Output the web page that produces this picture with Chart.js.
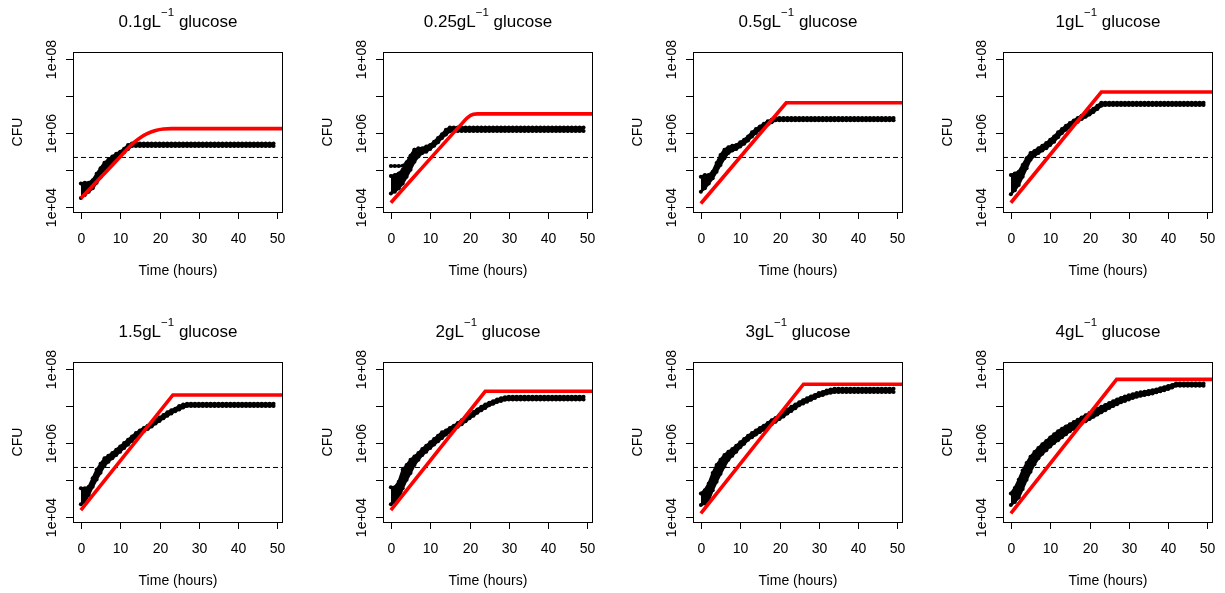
<!DOCTYPE html>
<html>
<head>
<meta charset="utf-8">
<script src="https://cdn.jsdelivr.net/npm/chart.js@4.4.0/dist/chart.umd.min.js"></script>
<style>
  html, body { margin: 0; padding: 0; background: #fff; }
  #grid { position: relative; width: 1225px; height: 593px; overflow: hidden; }
  #grid canvas { position: absolute; }
</style>
</head>
<body>
<div id="grid"></div>
<script>
// Glucose concentration of each panel (g/L)
const concentrations = ['0.1', '0.25', '0.5', '1', '1.5', '2', '3', '4'];

// Axis ticks
const xTicks = [0, 10, 20, 30, 40, 50];
const yTicks = [1e4, 1e5, 1e6, 1e7, 1e8];
const yTickLabels = ['1e+04', '', '1e+06', '', '1e+08'];

// Dashed reference level (CFU)
const detectionLimit = 2.15e5;
// Last sampled hour
const lastHour = 49;

// Growth phase, log10 CFU, one value per hour from t = 0 (upper / lower replicate);
// plateau = stationary level [upper, lower]; model = fitted curve (hours, log10 CFU)
const upper01 = [4.63, 4.65, 4.65, 4.72, 4.89, 5.04, 5.19, 5.27, 5.36, 5.43, 5.49, 5.57, 5.67];
const lower01 = [4.24, 4.32, 4.41, 4.50, 4.65, 4.80, 4.95, 5.09, 5.19, 5.29, 5.38, 5.47, 5.56];
const plateau01 = [5.71, 5.64];
const modelHours01 = [0, 5, 10, 13, 15, 17, 19, 21, 23, 52];
const modelLog01 = [4.23, 4.79, 5.35, 5.69, 5.86, 5.98, 6.06, 6.10, 6.11, 6.11];

const upper025 = [4.83, 4.86, 4.90, 5.00, 5.18, 5.36, 5.54, 5.58, 5.58, 5.63, 5.67, 5.76, 5.86, 5.96, 6.08, 6.14];
const lower025 = [4.36, 4.41, 4.50, 4.63, 4.81, 5.00, 5.22, 5.36, 5.45, 5.49, 5.56, 5.65, 5.74, 5.86, 5.95, 6.04];
const early025 = [5.10, 5.10, 5.10, 5.11, 5.20, 5.38, 5.54];
const plateau025 = [6.14, 6.05];
const modelHours025 = [0, 18, 19.5, 21, 22, 52];
const modelLog025 = [4.11, 6.24, 6.41, 6.50, 6.51, 6.51];

const upper05 = [4.81, 4.86, 4.86, 4.95, 5.18, 5.40, 5.54, 5.61, 5.65, 5.67, 5.74, 5.81, 5.90, 6.01, 6.10, 6.17, 6.24, 6.31, 6.35];
const lower05 = [4.41, 4.50, 4.63, 4.77, 4.95, 5.13, 5.31, 5.45, 5.52, 5.56, 5.63, 5.70, 5.79, 5.90, 5.99, 6.08, 6.15, 6.22, 6.28];
const plateau05 = [6.40, 6.34];
const modelHours05 = [0, 21.7, 52];
const modelLog05 = [4.09, 6.81, 6.81];

const upper1 = [4.86, 4.90, 4.95, 5.13, 5.31, 5.45, 5.51, 5.58, 5.65, 5.72, 5.81, 5.90, 6.01, 6.10, 6.19, 6.26, 6.33, 6.40, 6.46, 6.52, 6.58, 6.65, 6.73, 6.81];
const lower1 = [4.34, 4.45, 4.59, 4.81, 5.04, 5.27, 5.38, 5.45, 5.52, 5.58, 5.67, 5.76, 5.88, 5.99, 6.08, 6.15, 6.23, 6.30, 6.37, 6.43, 6.49, 6.56, 6.64, 6.73];
const plateau1 = [6.81, 6.75];
const modelHours1 = [0, 23, 52];
const modelLog1 = [4.11, 7.10, 7.10];

const upper15 = [4.77, 4.77, 4.81, 5.04, 5.27, 5.43, 5.58, 5.65, 5.72, 5.81, 5.90, 5.99, 6.08, 6.17, 6.26, 6.33, 6.40, 6.46, 6.53, 6.61, 6.68, 6.75, 6.82, 6.88, 6.92, 6.99, 7.03];
const lower15 = [4.34, 4.41, 4.59, 4.81, 5.01, 5.19, 5.38, 5.49, 5.58, 5.67, 5.76, 5.86, 5.95, 6.05, 6.15, 6.24, 6.31, 6.37, 6.44, 6.52, 6.59, 6.66, 6.73, 6.79, 6.85, 6.90, 6.95];
const plateau15 = [7.05, 6.99];
const modelHours15 = [0, 23.4, 52];
const modelLog15 = [4.18, 7.29, 7.29];

const upper2 = [4.80, 4.80, 4.95, 5.27, 5.40, 5.54, 5.63, 5.72, 5.83, 5.92, 6.01, 6.10, 6.19, 6.28, 6.33, 6.40, 6.46, 6.53, 6.61, 6.69, 6.76, 6.83, 6.90, 6.97, 7.03, 7.08, 7.12, 7.17, 7.20, 7.23];
const lower2 = [4.34, 4.41, 4.50, 4.77, 5.00, 5.18, 5.40, 5.54, 5.67, 5.76, 5.86, 5.95, 6.04, 6.13, 6.22, 6.29, 6.35, 6.43, 6.50, 6.58, 6.66, 6.73, 6.81, 6.88, 6.94, 7.01, 7.05, 7.10, 7.13, 7.16];
const plateau2 = [7.24, 7.17];
const modelHours2 = [0, 24, 52];
const modelLog2 = [4.18, 7.39, 7.39];

const upper3 = [4.63, 4.72, 4.90, 5.18, 5.40, 5.54, 5.67, 5.76, 5.83, 5.92, 6.01, 6.10, 6.19, 6.26, 6.33, 6.40, 6.46, 6.53, 6.61, 6.67, 6.75, 6.82, 6.90, 6.97, 7.03, 7.09, 7.15, 7.20, 7.25, 7.29, 7.34, 7.37, 7.41, 7.44, 7.46];
const lower3 = [4.32, 4.36, 4.45, 4.72, 4.95, 5.16, 5.36, 5.54, 5.65, 5.76, 5.88, 5.97, 6.08, 6.15, 6.22, 6.29, 6.35, 6.43, 6.50, 6.57, 6.64, 6.71, 6.79, 6.86, 6.93, 7.01, 7.06, 7.11, 7.16, 7.21, 7.26, 7.29, 7.33, 7.35, 7.37];
const plateau3 = [7.46, 7.37];
const modelHours3 = [0, 26.1, 52];
const modelLog3 = [4.09, 7.58, 7.58];

const upper4 = [4.63, 4.78, 5.00, 5.25, 5.45, 5.62, 5.75, 5.86, 5.96, 6.05, 6.14, 6.23, 6.31, 6.38, 6.44, 6.50, 6.56, 6.62, 6.68, 6.74, 6.80, 6.86, 6.92, 6.97, 7.02, 7.07, 7.12, 7.17, 7.21, 7.25, 7.28, 7.31, 7.34, 7.36, 7.38, 7.40, 7.42, 7.44, 7.47, 7.50, 7.53, 7.56];
const lower4 = [4.32, 4.40, 4.52, 4.75, 5.00, 5.22, 5.42, 5.58, 5.70, 5.80, 5.90, 5.99, 6.07, 6.15, 6.23, 6.31, 6.38, 6.45, 6.52, 6.58, 6.64, 6.70, 6.76, 6.82, 6.88, 6.94, 6.99, 7.04, 7.09, 7.13, 7.17, 7.21, 7.24, 7.27, 7.29, 7.31, 7.33, 7.36, 7.39, 7.42, 7.45, 7.49];
const plateau4 = [7.60, 7.54];
const modelHours4 = [0, 26.9, 52];
const modelLog4 = [4.09, 7.71, 7.71];

const panels = [
  { upper: upper01, lower: lower01, plateau: plateau01, mh: modelHours01, ml: modelLog01, smooth: true },
  { upper: upper025, lower: lower025, early: early025, plateau: plateau025, mh: modelHours025, ml: modelLog025, smooth: true },
  { upper: upper05, lower: lower05, plateau: plateau05, mh: modelHours05, ml: modelLog05 },
  { upper: upper1, lower: lower1, plateau: plateau1, mh: modelHours1, ml: modelLog1 },
  { upper: upper15, lower: lower15, plateau: plateau15, mh: modelHours15, ml: modelLog15 },
  { upper: upper2, lower: lower2, plateau: plateau2, mh: modelHours2, ml: modelLog2 },
  { upper: upper3, lower: lower3, plateau: plateau3, mh: modelHours3, ml: modelLog3 },
  { upper: upper4, lower: lower4, plateau: plateau4, mh: modelHours4, ml: modelLog4 }
];

const FONT = '"Liberation Sans", Arial, Helvetica, sans-serif';

// Hourly readings: growth values, then the stationary level until the last hour
function replicate(growth, level) {
  const pts = [];
  for (let h = 0; h <= lastHour; h++) {
    pts.push({ x: h, y: Math.pow(10, h < growth.length ? growth[h] : level) });
  }
  return pts;
}

function pairs(hours, logs) {
  return hours.map((h, i) => ({ x: h, y: Math.pow(10, logs[i]) }));
}

// R-style box, ticks, tick labels and titles
const baseAxes = {
  id: 'baseAxes',
  afterDatasetsDraw(chart, args, opts) {
    const { ctx, chartArea: a, scales: { x, y } } = chart;
    ctx.save();
    ctx.strokeStyle = '#000';
    ctx.fillStyle = '#000';
    ctx.lineWidth = 1;
    ctx.strokeRect(a.left + 0.5, a.top + 0.5, a.right - a.left - 1, a.bottom - a.top);

    ctx.font = '14px ' + FONT;
    ctx.textBaseline = 'alphabetic';
    ctx.textAlign = 'center';
    xTicks.forEach(v => {
      const px = Math.round(x.getPixelForValue(v)) + 0.5;
      ctx.beginPath();
      ctx.moveTo(px, a.bottom);
      ctx.lineTo(px, a.bottom + 7);
      ctx.stroke();
      ctx.fillText(String(v), px, a.bottom + 31);
    });
    yTicks.forEach((v, i) => {
      const py = Math.round(y.getPixelForValue(v)) + 0.5;
      ctx.beginPath();
      ctx.moveTo(a.left - 7, py);
      ctx.lineTo(a.left, py);
      ctx.stroke();
      if (yTickLabels[i]) {
        ctx.save();
        ctx.translate(a.left - 17, py);
        ctx.rotate(-Math.PI / 2);
        ctx.fillText(yTickLabels[i], 0, 0);
        ctx.restore();
      }
    });

    const cx = (a.left + a.right) / 2;
    ctx.fillText('Time (hours)', cx, a.bottom + 63);
    ctx.save();
    ctx.translate(a.left - 51, (a.top + a.bottom) / 2);
    ctx.rotate(-Math.PI / 2);
    ctx.fillText('CFU', 0, 0);
    ctx.restore();

    // Title with superscript unit
    const main1 = opts.concentration + 'gL';
    const sup = '\u22121';
    const main2 = ' glucose';
    const mainFont = '17px ' + FONT;
    const supFont = '11.5px ' + FONT;
    ctx.font = mainFont;
    const w1 = ctx.measureText(main1).width;
    const w3 = ctx.measureText(main2).width;
    ctx.font = supFont;
    const w2 = ctx.measureText(sup).width;
    let tx = cx - (w1 + w2 + w3) / 2;
    const base = a.top - 25;
    ctx.textAlign = 'left';
    ctx.font = mainFont;
    ctx.fillText(main1, tx, base);
    tx += w1;
    ctx.font = supFont;
    ctx.fillText(sup, tx, base - 11);
    tx += w2;
    ctx.font = mainFont;
    ctx.fillText(main2, tx, base);
    ctx.restore();
  }
};

const grid = document.getElementById('grid');

panels.forEach((p, idx) => {
  const col = idx % 4;
  const row = Math.floor(idx / 4);
  const canvas = document.createElement('canvas');
  canvas.width = 310;
  canvas.height = 310;
  canvas.style.left = (col * 310) + 'px';
  canvas.style.top = (row * 310) + 'px';
  grid.appendChild(canvas);

  const dotStyle = {
    type: 'line',
    showLine: true,
    borderColor: '#000',
    backgroundColor: '#000',
    borderWidth: 2.5,
    pointRadius: 2,
    pointBackgroundColor: '#000',
    pointBorderWidth: 0,
    tension: 0,
    clip: 0,
    order: 2
  };

  const datasets = [
    {
      type: 'line',
      data: pairs(p.mh, p.ml),
      borderColor: '#ff0000',
      borderWidth: 3.6,
      pointRadius: 0,
      tension: p.smooth ? 0.4 : 0,
      cubicInterpolationMode: p.smooth ? 'monotone' : 'default',
      clip: 0,
      order: 1
    },
    Object.assign({}, dotStyle, { data: replicate(p.upper, p.plateau[0]), fill: false }),
    // lower replicate, shaded up to the upper one
    Object.assign({}, dotStyle, { data: replicate(p.lower, p.plateau[1]), fill: '-1' })
  ];
  if (p.early) {
    datasets.push(Object.assign({}, dotStyle, {
      data: p.early.map((v, h) => ({ x: h, y: Math.pow(10, v) })),
      fill: false
    }));
  }
  datasets.push({
    type: 'line',
    data: [{ x: -2, y: detectionLimit }, { x: 52, y: detectionLimit }],
    borderColor: '#000',
    borderWidth: 1,
    borderDash: [5, 3],
    pointRadius: 0,
    fill: false,
    clip: 0,
    order: 3
  });

  new Chart(canvas, {
    type: 'line',
    data: { datasets },
    options: {
      responsive: false,
      animation: false,
      events: [],
      devicePixelRatio: 1,
      layout: { padding: { left: 73, right: 27, top: 52, bottom: 98 } },
      scales: {
        x: { type: 'linear', min: -2, max: 51.4, display: false },
        y: { type: 'logarithmic', min: Math.pow(10, 3.86), max: Math.pow(10, 8.18), display: false }
      },
      plugins: {
        legend: { display: false },
        tooltip: { enabled: false },
        baseAxes: { concentration: concentrations[idx] }
      }
    },
    plugins: [baseAxes]
  });
});
</script>
</body>
</html>
